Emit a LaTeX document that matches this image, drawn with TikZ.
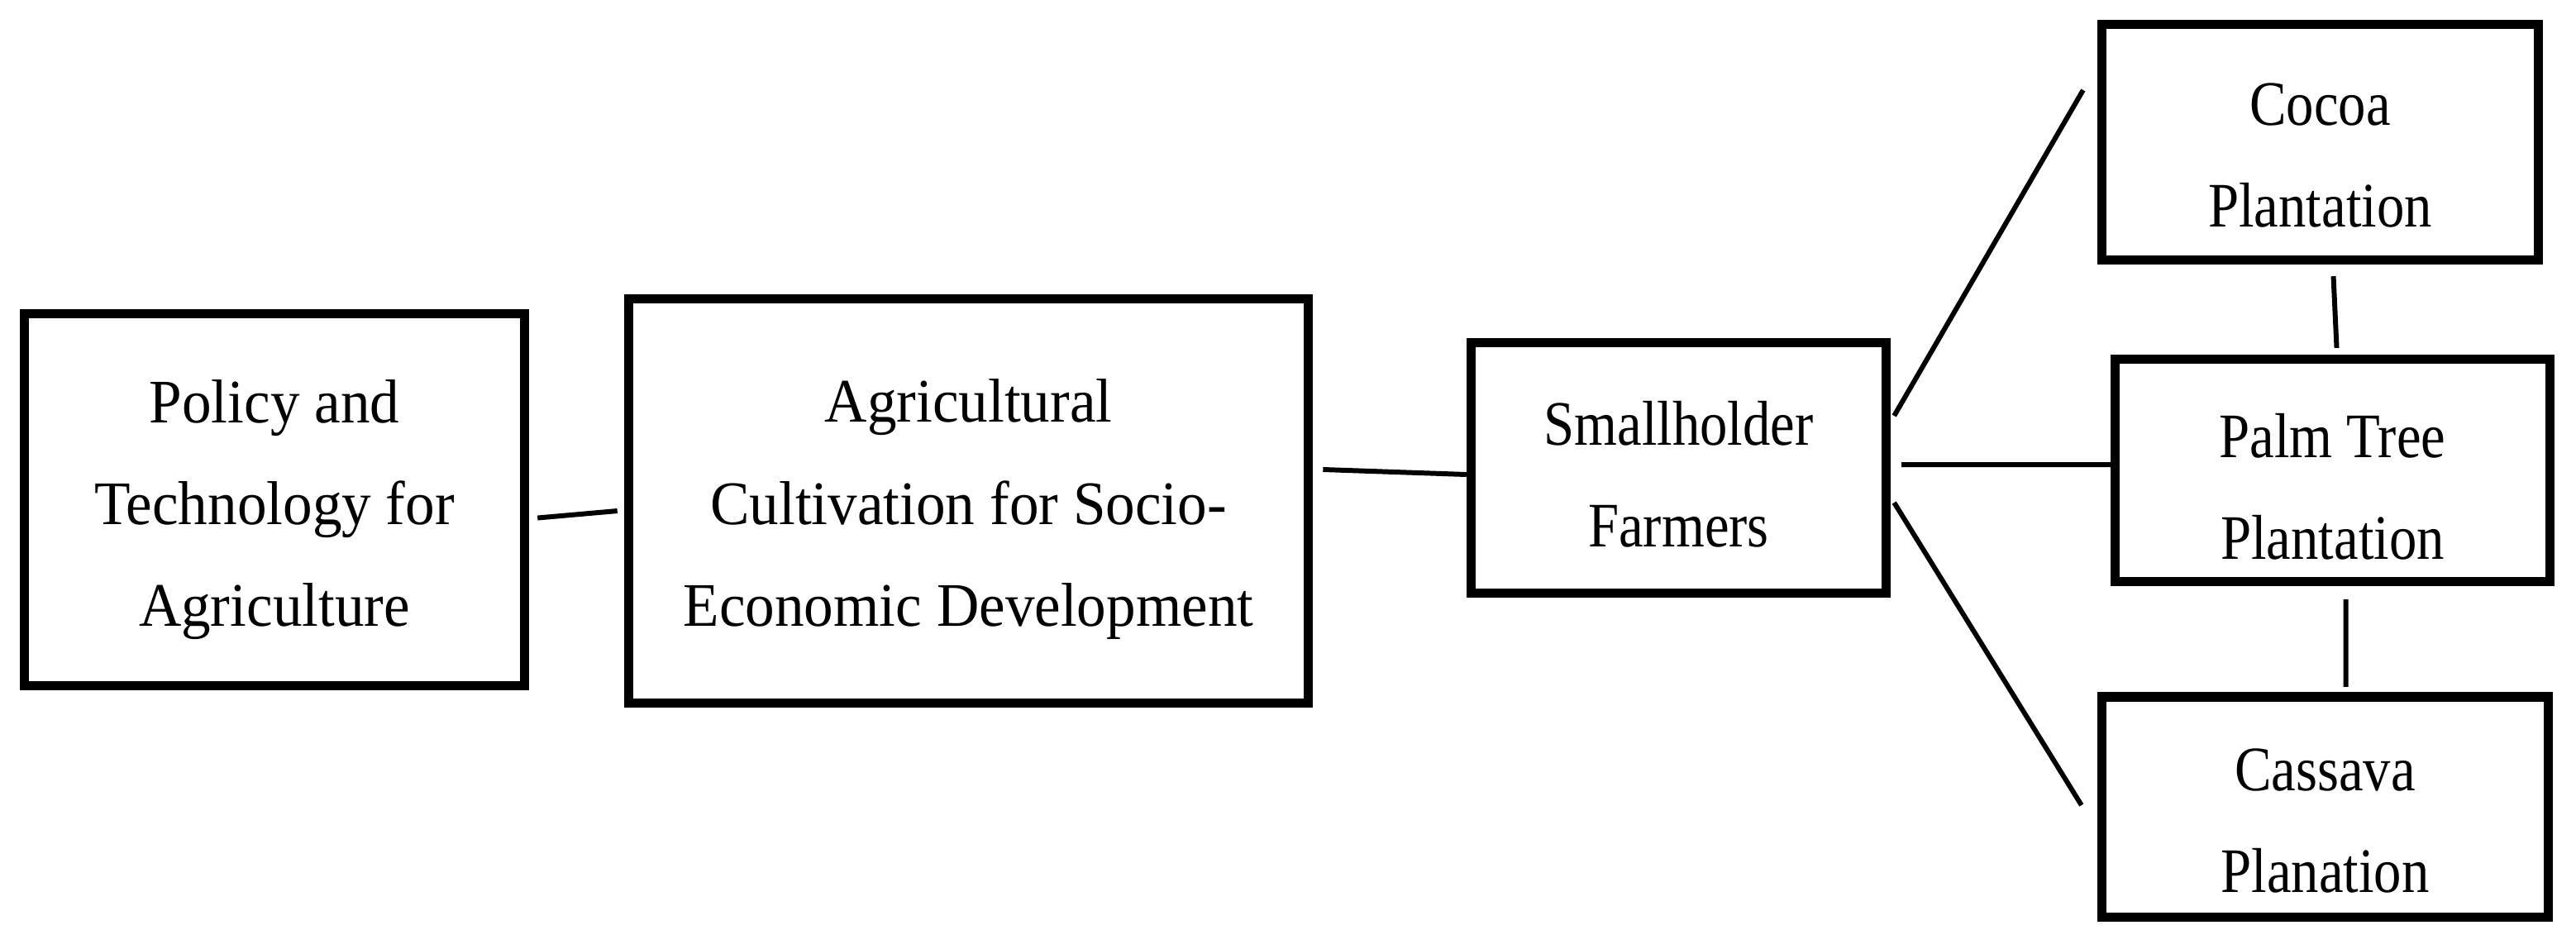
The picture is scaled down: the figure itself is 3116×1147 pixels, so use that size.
\documentclass[tikz,border=0pt]{standalone}
\usepackage{fontspec}
\setmainfont{Liberation Serif}
\newfontfamily\leftfont[FakeStretch=0.95]{Liberation Serif}
\newfontfamily\rightfont[FakeStretch=0.87]{Liberation Serif}
\begin{document}
\begin{tikzpicture}[x=0.01cm,y=-0.01cm,
  box/.style={draw, line width=3.3pt, inner sep=0pt},
  txtL/.style={align=center, inner sep=0pt, font=\leftfont\fontsize{21.3}{35}\selectfont},
  txtR/.style={align=center, inner sep=0pt, font=\rightfont\fontsize{21.8}{35}\selectfont},
  link/.style={line width=1.7pt}]
\useasboundingbox (0,0) rectangle (3116,1147);
\node[box, minimum width=6.045cm, minimum height=4.495cm] (policy) at (332,604.5) {};
\node[box, minimum width=8.215cm, minimum height=4.885cm] (agri) at (1171.5,606) {};
\node[box, minimum width=5.015cm, minimum height=3.025cm] (small) at (2030.5,566) {};
\node[box, minimum width=5.275cm, minimum height=2.845cm] (cocoa) at (2806.5,172) {};
\node[box, minimum width=5.255cm, minimum height=2.685cm] (palm) at (2821.5,569) {};
\node[box, minimum width=5.395cm, minimum height=2.665cm] (cassava) at (2812.5,976) {};
\node[txtL] (policyT) at ([yshift=-0.12cm]policy.center) {Policy and\\Technology for\\Agriculture};
\node[txtL] (agriT) at ([yshift=-0.10cm]agri.center) {Agricultural\\Cultivation for Socio-\\Economic Development};
\node[txtR] (smallT) at ([yshift=-0.08cm]small.center) {Smallholder\\Farmers};
\node[txtR] (cocoaT) at ([yshift=-0.16cm]cocoa.center) {Cocoa\\Plantation};
\node[txtR] (palmT) at ([yshift=-0.20cm]palm.center) {Palm Tree\\Plantation};
\node[txtR] (cassavaT) at ([yshift=-0.17cm]cassava.center) {Cassava\\Planation};
\draw[link] ([xshift=0.1cm,yshift=-0.22cm]policy.east) -- ([xshift=-0.08cm,yshift=-0.12cm]agri.west);
\draw[link] ([xshift=0.12cm,yshift=0.38cm]agri.east) -- ([yshift=-0.08cm]small.west);
\draw[link] ([xshift=0.04cm,yshift=0.63cm]small.east) -- ([xshift=-0.17cm,yshift=0.63cm]cocoa.west);
\draw[link] ([xshift=0.13cm,yshift=0.04cm]small.east) -- ([yshift=0.07cm]palm.west);
\draw[link] ([xshift=0.04cm,yshift=-0.42cm]small.east) -- ([xshift=-0.19cm,yshift=0.02cm]cassava.west);
\draw[link] ([xshift=0.16cm,yshift=-0.14cm]cocoa.south) -- ([xshift=0.05cm,yshift=0.08cm]palm.north);
\draw[link] ([xshift=0.16cm,yshift=-0.16cm]palm.south) -- ([xshift=0.25cm,yshift=0.06cm]cassava.north);
\end{tikzpicture}
\end{document}
